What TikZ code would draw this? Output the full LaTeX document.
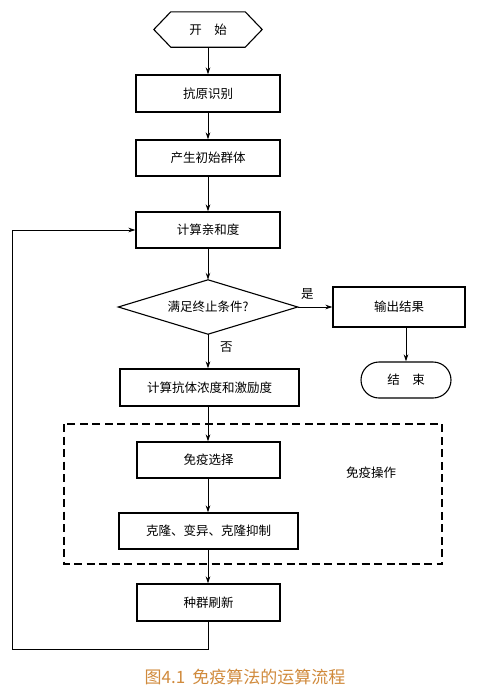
\documentclass[tikz,border=0pt]{standalone}
\usepackage{fontspec}
\setmainfont{Noto Sans CJK SC}
\usetikzlibrary{arrows.meta,shapes.geometric}
\definecolor{capcol}{RGB}{208,138,60}
\begin{document}
\begin{tikzpicture}[x=1pt,y=-1pt,
  every node/.style={font=\fontsize{12.5}{14}\selectfont, inner sep=0pt},
  box/.style={draw, line width=1.1pt, minimum width=144pt, minimum height=37pt},
  wbox/.style={box, minimum width=179pt},
  arr/.style={line width=1pt, -{Stealth[length=7pt,width=4.5pt]}},
  ln/.style={line width=1pt},
]
\useasboundingbox (0,0) rectangle (490,691);
\node[minimum width=108pt, minimum height=35pt] (start) at (208,29.5) {开　始};
\draw[line width=1.1pt] (start.west) -- ([xshift=17pt]start.north west) -- ([xshift=-17pt]start.north east)
  -- (start.east) -- ([xshift=-17pt]start.south east) -- ([xshift=17pt]start.south west) -- cycle;
\node[box] (antigen) at (208,93.5) {抗原识别};
\node[box, minimum height=36pt] (init) at (208,158) {产生初始群体};
\node[box, minimum height=36pt] (aff) at (208,230) {计算亲和度};
\node[minimum width=179pt, minimum height=54pt] (cond) at (208,307) {满足终止条件?};
\draw[line width=1.1pt] (cond.west) -- (cond.north) -- (cond.east) -- (cond.south) -- cycle;
\node[box, minimum width=132pt, minimum height=40pt] (out) at (399,307) {输出结果};
\node[draw, line width=1.1pt, rounded corners=18pt, minimum width=90pt, minimum height=36pt] (stop) at (406,380) {结　束};
\node[wbox] (conc) at (209.5,387.5) {计算抗体浓度和激励度};
\draw[line width=1.1pt, dash pattern=on 8pt off 4.5pt] (64,424) rectangle (442,564);
\node (immlabel) at (371,473) {免疫操作};
\node[box, minimum width=143pt, minimum height=36pt] (sel) at (208.5,460) {免疫选择};
\node[wbox, minimum height=36pt] (clone) at (208.5,531) {克隆、变异、克隆抑制};
\node[box, minimum width=143pt] (refresh) at (208.5,602.5) {种群刷新};
\node[font=\fontsize{17}{20}\selectfont, text=capcol] (cap) at (245,677) {图4.1\hspace{7pt}免疫算法的运算流程};
\coordinate (lb) at (208,649);
\coordinate (ll) at (12,649);
\coordinate (lt) at (12,230);
\draw[arr] (start.south -| antigen.north) -- (antigen.north);
\draw[arr] (antigen) -- (init);
\draw[arr] (init) -- (aff);
\draw[arr] (aff.south -| cond.north) -- (cond.north);
\draw[arr] (cond.east) -- (out.west) node[pos=0.28, above=7pt] (yes) {是};
\draw[arr] (stop.north |- out.south) -- (stop.north);
\draw[arr] (cond.south) -- (cond.south |- conc.north) node[pos=0.37, right=11.5pt] (no) {否};
\draw[arr] (cond.south |- conc.south) -- (cond.south |- sel.north);
\draw[arr] (cond.south |- sel.south) -- (cond.south |- clone.north);
\draw[arr] (cond.south |- clone.south) -- (cond.south |- refresh.north);
\draw[arr] (cond.south |- refresh.south) -- (lb) -- (ll) -- (lt) -- (aff.west);
\end{tikzpicture}
\end{document}
